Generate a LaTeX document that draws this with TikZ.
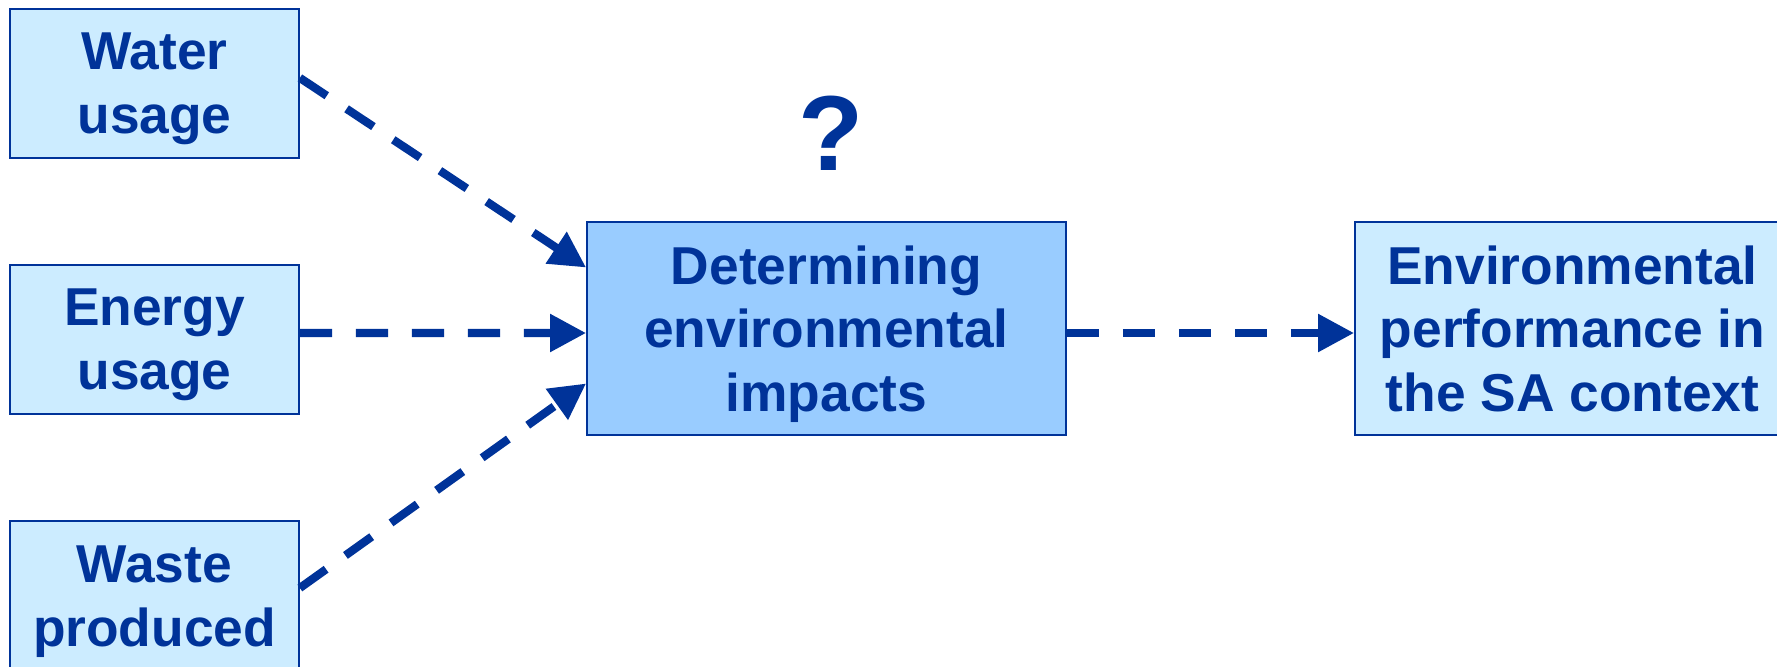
\documentclass[tikz,border=0pt]{standalone}
\usepackage{fontspec}
\setmainfont{Liberation Sans}
\usetikzlibrary{arrows.meta,calc}

\definecolor{inkblue}{RGB}{0,51,153}
\definecolor{paleblue}{RGB}{204,236,255}
\definecolor{midblue}{RGB}{153,204,255}

\tikzset{
	box/.style={draw=inkblue, line width=1.3pt, fill=paleblue, text=inkblue,
		inner sep=0pt, align=center, text depth=0pt,
		font=\bfseries\fontsize{40}{47.8}\selectfont},
	smallbox/.style={box, minimum width=216.75pt, minimum height=112pt},
	bigbox/.style={box, minimum height=159.75pt},
	flow/.style={draw=inkblue, line width=6.2pt, dash pattern=on 24.2pt off 17.8pt,
		-{Triangle[length=27pt,width=27pt]}}}
\tikzset{every picture/.style={line width=0.75pt}}

\begin{document}
\begin{tikzpicture}[x=0.75pt,y=0.75pt,yscale=-1,xscale=1]
	\useasboundingbox (0,0) rectangle (1777,667);
	\clip (0,0) rectangle (1777,667);

	% Input boxes
	\node [smallbox] (water) at (154.5,83.5) {Water\\usage};
	\node [smallbox] (energy) at (154.5,339.5) {Energy\\usage};
	\node [smallbox] (waste) at (154.5,596) {Waste\\produced};

	% Middle and result boxes
	\node [bigbox, fill=midblue, minimum width=359.25pt] (impact) at (826.5,328.5) {Determining\\environmental\\impacts};
	\node [bigbox, minimum width=326.25pt] (result) at (1572.5,328.5) {Environmental\\performance in\\the SA context};

	% Text Node
	\node [text=inkblue, inner sep=0pt, font=\bfseries\fontsize{80}{96}\selectfont] (query) at (831,133) {?};

	% Dashed arrows
	\draw [flow] ($(water.north east)!0.463!(water.south east)$) -- ($(impact.north west)!0.216!(impact.south west)$);
	\draw [flow] ($(energy.north east)!0.457!(energy.south east)$) -- ($(impact.north west)!0.521!(impact.south west)$);
	\draw [flow] ($(waste.north east)!0.447!(waste.south east)$) -- ($(impact.north west)!0.756!(impact.south west)$);
	\draw [flow] ($(impact.north east)!0.521!(impact.south east)$) -- ($(result.north west)!0.521!(result.south west)$);

\end{tikzpicture}
\end{document}
